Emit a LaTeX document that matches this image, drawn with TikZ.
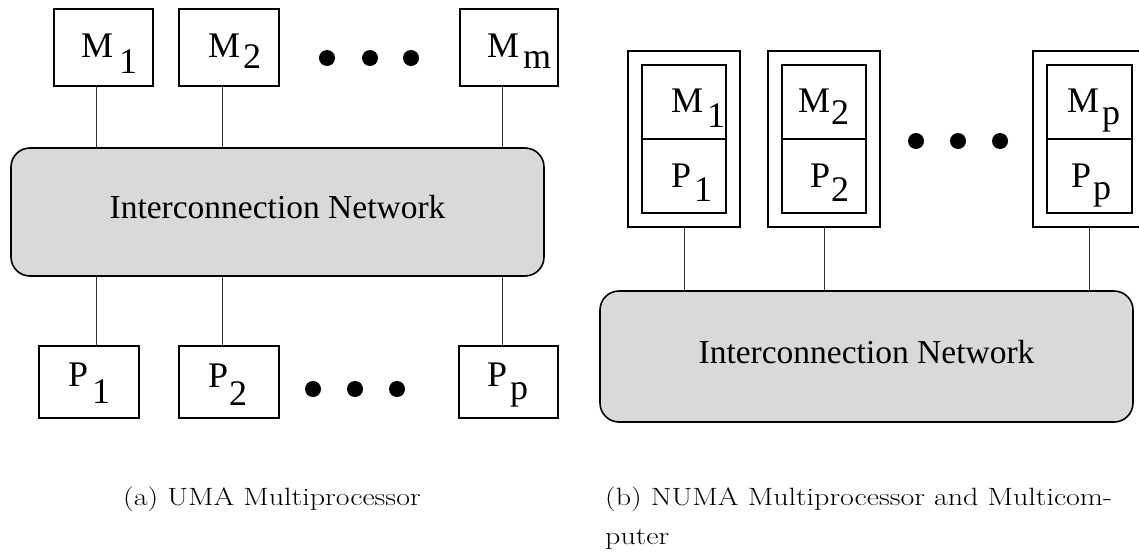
\documentclass[tikz,border=0pt]{standalone}
\usepackage{graphicx}
\usepackage{fontspec}
\newfontfamily\labelfont{Liberation Serif}
\definecolor{netgray}{HTML}{D9D9D9}
\definecolor{wiregray}{HTML}{333333}
\tikzset{
  unitbox/.style={draw, line width=2pt, inner sep=0pt, rectangle},
  nodebox/.style={draw, line width=2.2pt, inner sep=0pt, rectangle},
  cellbox/.style={draw, line width=1.2pt, inner sep=0pt, rectangle},
  netbox/.style={draw, line width=1.6pt, fill=netgray, rounded corners=19pt, inner sep=0pt, rectangle},
  wire/.style={draw=wiregray, line width=1pt},
  lbl/.style={anchor=base west, inner sep=0pt, font=\labelfont\fontsize{36}{40}\selectfont},
  nettext/.style={anchor=base, inner sep=0pt, font=\labelfont\fontsize{33.5}{40}\selectfont},
  captext/.style={anchor=base west, inner sep=0pt, font=\rmfamily\fontsize{25}{30}\selectfont},
  dot/.style={circle, fill=black, inner sep=0pt, minimum size=16pt}
}
% letter followed by a lowered index, with explicit gap and drop
\newcommand{\idx}[4]{#1\hspace{#3pt}\raisebox{-#4pt}{#2}}
% caption text, set a little wide
\newcommand{\captxt}[1]{\scalebox{1.2}[1]{#1}}
\begin{document}
\begin{tikzpicture}[x=1pt, y=-1pt]
\useasboundingbox (0,0) rectangle (1139,552);
\clip (0,0) rectangle (1139,552);

% ---------- (a) UMA multiprocessor ----------
\node[unitbox, minimum width=99pt, minimum height=77pt] (ma1) at (103.5,47.5) {};
\node[unitbox, minimum width=100pt, minimum height=77pt] (ma2) at (229,47.5) {};
\node[unitbox, minimum width=98pt, minimum height=77pt] (mam) at (509,47.5) {};
\node[dot] (da1) at (327,58) {};
\node[dot] (da2) at (370,58) {};
\node[dot] (da3) at (411,58) {};

\node[netbox, minimum width=533pt, minimum height=128pt] (neta) at (277.5,212) {};
\node[nettext] (neta-t) at (277.5,218.5) {Interconnection Network};

\node[unitbox, minimum width=100pt, minimum height=72pt] (pa1) at (89,381.5) {};
\node[unitbox, minimum width=100pt, minimum height=72pt] (pa2) at (229,381.5) {};
\node[unitbox, minimum width=99pt, minimum height=72pt] (pap) at (508.5,381.5) {};
\node[dot] (db1) at (313,389) {};
\node[dot] (db2) at (355,389) {};
\node[dot] (db3) at (397,389) {};

\node[lbl] (ma1-t) at (81,57) {\idx{M}{1}{6}{16}};
\node[lbl] (ma2-t) at (208,57) {\idx{M}{2}{3}{11}};
\node[lbl] (mam-t) at (487,57) {\idx{M}{m}{4}{11}};
\node[lbl] (pa1-t) at (68,386) {\idx{P}{1}{4}{17}};
\node[lbl] (pa2-t) at (208,387) {\idx{P}{2}{1}{18}};
\node[lbl] (pap-t) at (487,386) {\idx{P}{p}{3}{13}};

\coordinate (xa1) at (96,0);
\coordinate (xa2) at (222,0);
\coordinate (xa3) at (502,0);
\draw[wire] (ma1.south -| xa1) -- (neta.north -| xa1);
\draw[wire] (ma2.south -| xa2) -- (neta.north -| xa2);
\draw[wire] (mam.south -| xa3) -- (neta.north -| xa3);
\draw[wire] (neta.south -| xa1) -- (pa1.north -| xa1);
\draw[wire] (neta.south -| xa2) -- (pa2.north -| xa2);
\draw[wire] (neta.south -| xa3) -- (pap.north -| xa3);

% ---------- (b) NUMA multiprocessor / multicomputer ----------
\node[nodebox, minimum width=112pt, minimum height=176pt] (nb1) at (684,139) {};
\node[nodebox, minimum width=112pt, minimum height=176pt] (nb2) at (824,139) {};
\node[nodebox, minimum width=113pt, minimum height=176pt] (nbp) at (1089.5,139) {};
\node[cellbox, minimum width=84pt, minimum height=74pt] (cm1) at (684,102) {};
\node[cellbox, minimum width=84pt, minimum height=74pt] (cp1) at (684,176) {};
\node[cellbox, minimum width=84pt, minimum height=74pt] (cm2) at (824,102) {};
\node[cellbox, minimum width=84pt, minimum height=74pt] (cp2) at (824,176) {};
\node[cellbox, minimum width=85pt, minimum height=74pt] (cmp) at (1089.5,102) {};
\node[cellbox, minimum width=85pt, minimum height=74pt] (cpp) at (1089.5,176) {};
\node[dot] (dc1) at (916,141) {};
\node[dot] (dc2) at (958,141) {};
\node[dot] (dc3) at (1000,141) {};

\node[lbl] (cm1-t) at (671,112) {\idx{M}{1}{4}{15}};
\node[lbl] (cp1-t) at (671,187) {\idx{P}{1}{3}{14}};
\node[lbl] (cm2-t) at (798,112) {\idx{M}{2}{1}{12}};
\node[lbl] (cp2-t) at (810,187) {\idx{P}{2}{1}{14}};
\node[lbl] (cmp-t) at (1067,112) {\idx{M}{p}{3}{12}};
\node[lbl] (cpp-t) at (1071,187) {\idx{P}{p}{2}{12}};

\node[netbox, minimum width=533pt, minimum height=131pt] (netb) at (866.5,356.5) {};
\node[nettext] (netb-t) at (866.5,363) {Interconnection Network};

\draw[wire] (nb1.south) -- (nb1.south |- netb.north);
\draw[wire] (nb2.south) -- (nb2.south |- netb.north);
\draw[wire] (nbp.south) -- (nbp.south |- netb.north);

% ---------- captions ----------
\node[captext] (capa) at (123,505) {\captxt{(a) UMA Multiprocessor}};
\node[captext] (capb1) at (605,505) {\captxt{(b) NUMA Multiprocessor and Multicom-}};
\node[captext] (capb2) at (605,544) {\captxt{puter}};
\end{tikzpicture}
\end{document}
